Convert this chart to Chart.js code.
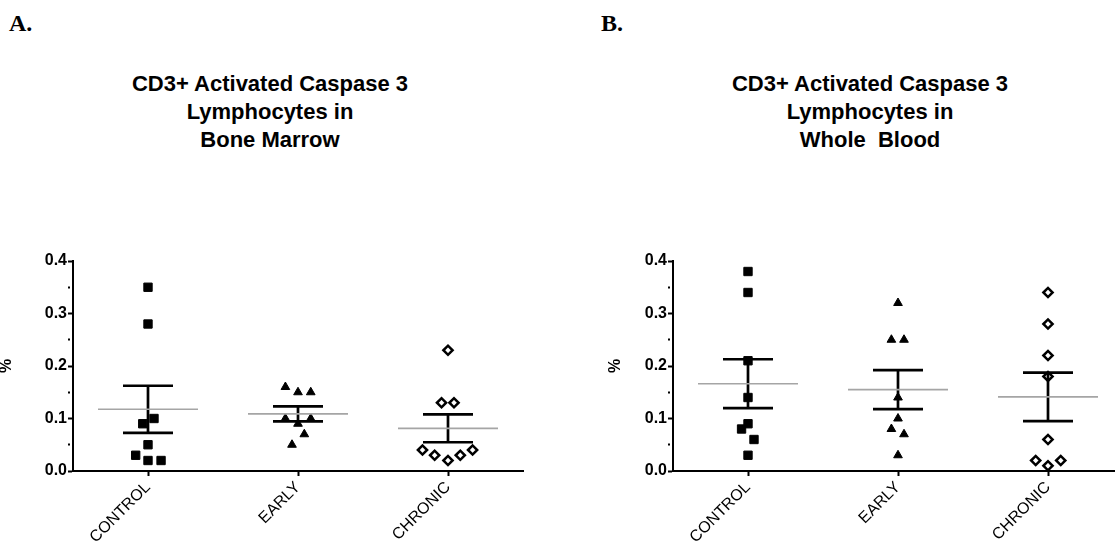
<!DOCTYPE html>
<html><head><meta charset="utf-8">
<script src="https://cdn.jsdelivr.net/npm/chart.js@4.4.1/dist/chart.umd.min.js"></script>
<style>
html,body{margin:0;padding:0;background:#fff;overflow:hidden;}
#wrap{position:relative;width:1115px;height:544px;overflow:hidden;background:#fff;}
.panel{position:absolute;top:0;height:544px;}
.lab{position:absolute;top:11px;font-family:'Liberation Serif','Times New Roman',serif;font-weight:bold;font-size:24px;line-height:24px;color:#000;}
.ttl{position:absolute;top:70px;width:400px;text-align:center;font-family:'Liberation Sans',Arial,sans-serif;font-weight:bold;font-size:22px;line-height:27.8px;white-space:pre;color:#000;}
</style></head>
<body>
<div id="wrap">
  <div class="lab" style="left:9px;">A.</div>
  <div class="lab" style="left:601px;">B.</div>
  <div class="ttl" style="left:70px;">CD3+ Activated Caspase 3
Lymphocytes in
Bone Marrow</div>
  <div class="ttl" style="left:670px;">CD3+ Activated Caspase 3
Lymphocytes in
Whole  Blood</div>
  <div class="panel" style="left:0;width:540px;"><canvas id="cA" width="540" height="544"></canvas></div>
  <div class="panel" style="left:560px;width:575px;"><canvas id="cB" width="575" height="544"></canvas></div>
</div>
<script>
// ---- data ----
const categories = ['CONTROL', 'EARLY', 'CHRONIC'];
const yTickLabels = ['0.0', '0.1', '0.2', '0.3', '0.4'];
const yAxisTitle = '%';

// A. Bone marrow
const boneControl = [0.35, 0.28, 0.10, 0.09, 0.05, 0.03, 0.02, 0.02];
const boneEarly   = [0.16, 0.15, 0.15, 0.10, 0.09, 0.10, 0.07, 0.05];
const boneChronic = [0.23, 0.13, 0.13, 0.04, 0.03, 0.02, 0.03, 0.04];
// horizontal scatter of each point inside its category (category units)
const boneControlSpread = [0, 0, 0.04, -0.035, 0, -0.082, 0, 0.087];
const boneEarlySpread   = [-0.084, 0, 0.085, -0.084, 0, 0.085, 0.042, -0.04];
const boneChronicSpread = [0, -0.043, 0.04, -0.17, -0.089, 0, 0.082, 0.164];

// B. Whole blood
const bloodControl = [0.38, 0.34, 0.21, 0.14, 0.09, 0.08, 0.06, 0.03];
const bloodEarly   = [0.32, 0.25, 0.25, 0.14, 0.10, 0.08, 0.07, 0.03];
const bloodChronic = [0.34, 0.28, 0.22, 0.18, 0.06, 0.02, 0.02, 0.01];
const bloodControlSpread = [0, 0, 0, 0, 0, -0.043, 0.04, 0];
const bloodEarlySpread   = [0, -0.044, 0.04, 0, 0, -0.044, 0.04, 0];
const bloodChronicSpread = [0, 0, 0, 0, 0, -0.082, 0.085, 0];

// ---- helpers ----
const FONT = "'Liberation Sans', Arial, sans-serif";
function mean(a){ return a.reduce((s,v)=>s+v,0)/a.length; }
function sem(a){ const m = mean(a); const v = a.reduce((s,x)=>s+(x-m)*(x-m),0)/(a.length-1); return Math.sqrt(v/a.length); }

const markerStyles = [
  {pointStyle:'rect', radius:5.9, bg:'#000', border:'#000', bw:1},
  {pointStyle:'triangle', radius:5, bg:'#000', border:'#000', bw:1},
  {pointStyle:'rectRot', radius:4.6, bg:'#fff', border:'#000', bw:2.5}
];

function groupSets(values, spread, i){
  const st = markerStyles[i];
  const m = mean(values), e = sem(values);
  const hi = m + e, lo = m - e;
  const cap = 1/6, half = 1/3;
  return [
    { data: values.map((v,k)=>({x: i + spread[k], y: v})), showLine:false,
      pointStyle: st.pointStyle, pointRadius: st.radius, pointBackgroundColor: st.bg,
      pointBorderColor: st.border, pointBorderWidth: st.bw, order: 3, clip: false },
    { data: [{x:i-cap,y:hi},{x:i+cap,y:hi},{x:i,y:NaN},{x:i,y:hi},{x:i,y:lo},{x:i,y:NaN},{x:i-cap,y:lo},{x:i+cap,y:lo}],
      showLine:true, spanGaps:false, borderColor:'#000', borderWidth:2.7, pointRadius:0, borderCapStyle:'butt', order:2, clip:false },
    { data: [{x:i-half,y:m},{x:i+half,y:m}], showLine:true, borderColor:'rgb(165,165,165)', borderWidth:1.6,
      pointRadius:0, order:1, clip:false }
  ];
}

function makeChart(id, groups, spreads, axisWidth, titlePad, rightPad){
  let datasets = [];
  groups.forEach((g,i)=>{ datasets = datasets.concat(groupSets(g, spreads[i], i)); });
  return new Chart(document.getElementById(id), {
    type: 'scatter',
    data: { datasets },
    options: {
      responsive:false, animation:false, devicePixelRatio:1,
      events: [],
      layout: { padding: { left:0, right:rightPad, top:261, bottom:0 } },
      plugins: { legend:{display:false}, tooltip:{enabled:false}, title:{display:false} },
      scales: {
        x: {
          type:'linear', min:-0.5, max:2.5,
          afterBuildTicks: s => { s.ticks = categories.map((c,k)=>({value:k})); },
          afterFit: s => { s.height = 73; },
          ticks: { callback: v => categories[v], minRotation:45, maxRotation:45, autoSkip:false,
                   color:'#000', font:{family:FONT, size:16, weight:'normal'}, padding:2 },
          grid: { drawOnChartArea:false, drawTicks:true, tickLength:5, tickWidth:2, tickColor:'#000' },
          border: { display:true, color:'#000', width:2 }
        },
        y: {
          min:0, max:0.4,
          afterFit: s => { s.width = axisWidth; },
          ticks: { stepSize:0.05, autoSkip:false, padding:1, color:'#000',
                   font:{family:FONT, size:16, weight:'bold'},
                   callback: v => { const k = Math.round(v*10); return Math.abs(v*10-k) < 1e-6 ? yTickLabels[k] : ''; } },
          grid: { drawOnChartArea:false, drawTicks:true, tickLength:5, tickWidth:2, tickColor:'#000',
                  tickBorderDash: ctx => { const v = ctx.tick ? ctx.tick.value : 0; const k = Math.round(v*10); return Math.abs(v*10-k) < 1e-6 ? [] : [2, 20]; } },
          border: { display:true, color:'#000', width:2 },
          title: { display:true, text:yAxisTitle, color:'#000', font:{family:FONT, size:16, weight:'bold', lineHeight:1.2},
                   padding:{top:titlePad, bottom:0} }
        }
      }
    }
  });
}

makeChart('cA', [boneControl, boneEarly, boneChronic], [boneControlSpread, boneEarlySpread, boneChronicSpread], 73, -3, 17);
makeChart('cB', [bloodControl, bloodEarly, bloodChronic], [bloodControlSpread, bloodEarlySpread, bloodChronicSpread], 113, 46, 12);
</script>
</body></html>
